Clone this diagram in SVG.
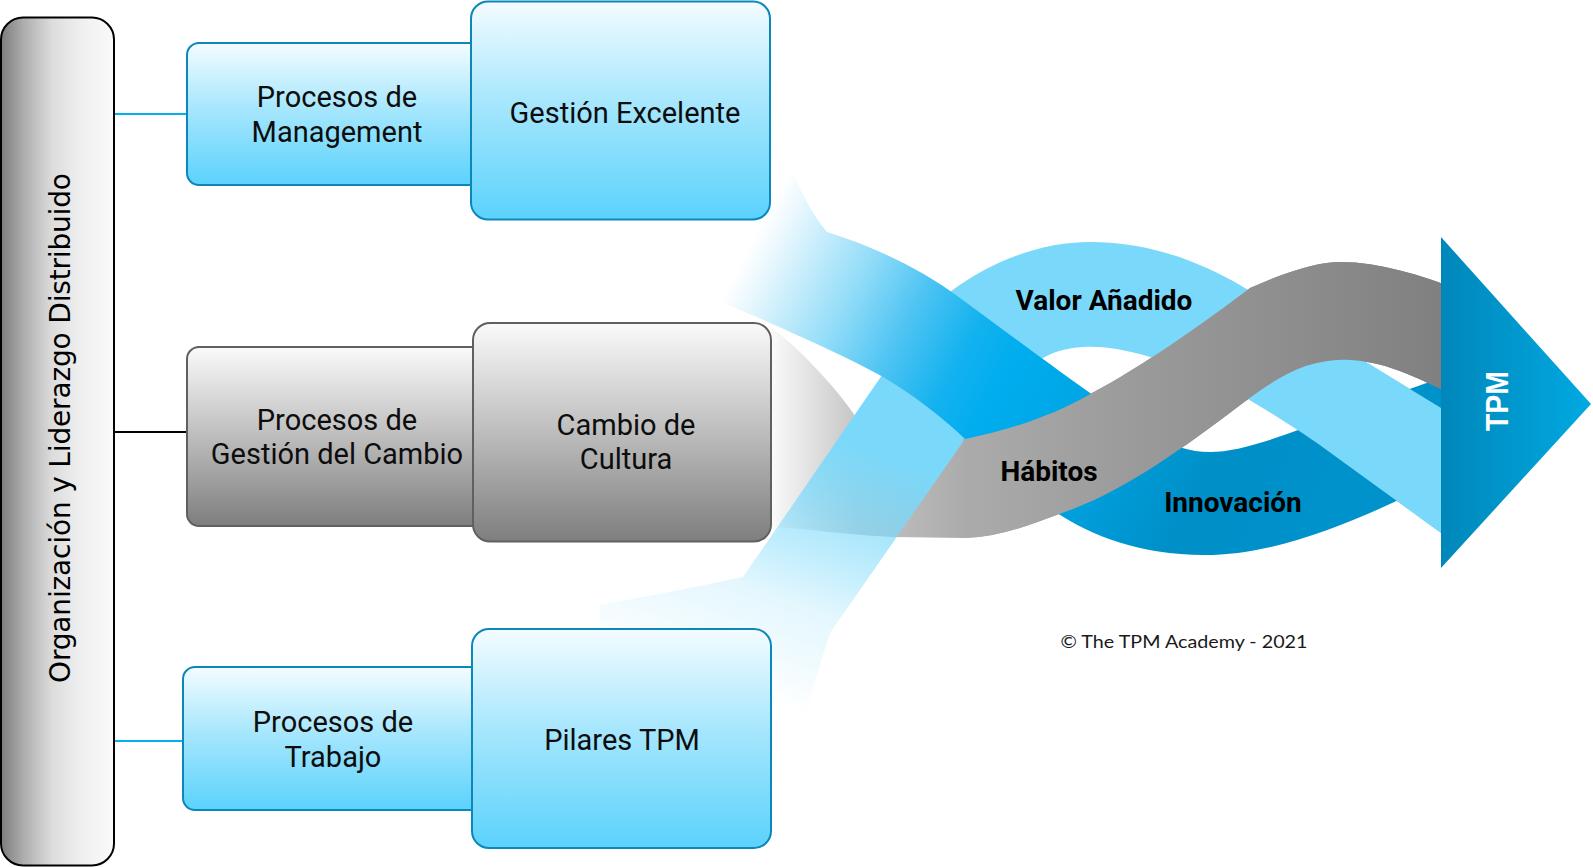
<svg xmlns="http://www.w3.org/2000/svg" width="1593" height="867" viewBox="0 0 1593 867">
<style>
.bl{fill:url(#gBlue);stroke:#0B87B9;stroke-width:2}
.gr{fill:url(#gGray);stroke:#606060;stroke-width:2}
.t{font-family:Roboto,"Liberation Sans",sans-serif;font-size:29px;fill:#0d0d0d;text-anchor:middle}
.tb{font-family:Roboto,"Liberation Sans",sans-serif;font-size:28px;font-weight:bold;fill:#000;text-anchor:middle}
</style>
<defs>
<linearGradient id="gBlue" x1="0" y1="0" x2="0" y2="1">
<stop offset="0" stop-color="#F4FCFF"/><stop offset="0.45" stop-color="#A8E7FD"/><stop offset="1" stop-color="#5BD2FC"/>
</linearGradient>
<linearGradient id="gGray" x1="0" y1="0" x2="0" y2="1">
<stop offset="0" stop-color="#FAFAFA"/><stop offset="0.5" stop-color="#BDBDBD"/><stop offset="1" stop-color="#7E7E7E"/>
</linearGradient>
<linearGradient id="gBar" x1="0" y1="0" x2="1" y2="0">
<stop offset="0" stop-color="#7C7C7C"/><stop offset="0.2" stop-color="#ADADAD"/><stop offset="0.45" stop-color="#DCDCDC"/><stop offset="0.7" stop-color="#EFEFEF"/><stop offset="1" stop-color="#FAFAFA"/>
</linearGradient>
<linearGradient id="gL" gradientUnits="userSpaceOnUse" x1="790" y1="745" x2="900" y2="430">
<stop offset="0.1" stop-color="#7AD9FA" stop-opacity="0"/><stop offset="0.2" stop-color="#7AD9FA" stop-opacity="0.08"/><stop offset="0.4" stop-color="#7AD9FA" stop-opacity="0.2"/><stop offset="0.55" stop-color="#7AD9FA" stop-opacity="0.45"/><stop offset="0.75" stop-color="#7AD9FA" stop-opacity="0.75"/><stop offset="0.92" stop-color="#7AD9FA" stop-opacity="1"/>
</linearGradient>
<linearGradient id="gB" gradientUnits="userSpaceOnUse" x1="600" y1="190" x2="1300" y2="560">
<stop offset="0.2" stop-color="#FFFFFF"/><stop offset="0.23" stop-color="#EBF8FE"/><stop offset="0.34" stop-color="#94DDF8"/><stop offset="0.42" stop-color="#4FC4F3"/><stop offset="0.5" stop-color="#14B2EF"/><stop offset="0.56" stop-color="#00ADEE"/><stop offset="0.66" stop-color="#00A6E6"/><stop offset="0.85" stop-color="#008FC7"/><stop offset="1" stop-color="#0092CB"/>
</linearGradient>
<linearGradient id="gG" gradientUnits="userSpaceOnUse" x1="771" y1="0" x2="1441" y2="0">
<stop offset="0" stop-color="#FAFAFA"/><stop offset="0.13" stop-color="#C4C4C4"/><stop offset="0.29" stop-color="#ABABAB"/><stop offset="0.55" stop-color="#9A9A9A"/><stop offset="0.8" stop-color="#8C8C8C"/><stop offset="1" stop-color="#808080"/>
</linearGradient>
<linearGradient id="gA" x1="0" y1="0" x2="1" y2="0">
<stop offset="0" stop-color="#0087BA"/><stop offset="1" stop-color="#00A9E2"/>
</linearGradient>
<clipPath id="cR"><rect x="1250" y="0" width="400" height="867"/></clipPath>
<clipPath id="cG"><rect x="963" y="0" width="700" height="867"/></clipPath>
<path id="pG" d="M771,327 C795,345 835,385 858,420 L930,445 L965,439 C1000,432 1050,418 1092,393 C1140,368 1205,322 1250,288 C1290,270 1320,262 1340,262 C1380,262 1420,275 1460,290 L1460,398 C1420,380 1390,362 1350,360 C1310,358 1280,375 1243,403 C1200,435 1130,490 1062,513 C1030,525 1000,537 965,538 L893,537 C850,535 800,528 771,527 Z"/>
<path id="pL" d="M680,590 L743,577 L880,378 L950,292 C990,262 1040,242 1090,242 C1150,242 1200,262 1240,285 L1441,408 L1460,420 L1460,545 L1441,533 L1317,443 C1270,410 1190,362 1150,357 C1120,348 1100,346 1083,347 C1065,348 1050,353 1040,360 L965,439 L830,633 L795,745 L771,765 L600,640 L600,605 Z"/>
</defs>

<g id="ribbons">
<use href="#pG" fill="url(#gG)"/>
<use href="#pL" fill="url(#gL)"/>
<path id="band-blue" fill="url(#gB)" d="M770,120 C785,150 800,200 827,232 C870,245 920,268 960,298 C1010,335 1060,372 1100,400 C1140,428 1170,452 1210,452 C1260,452 1340,410 1460,372 L1460,470 C1380,510 1290,555 1204,555 C1140,555 1090,535 1057,513 C1020,490 990,465 965,439 C940,415 910,393 883,377 C840,352 700,290 570,243 L575,219 L770,219 Z"/>
<use href="#pL" fill="url(#gL)" clip-path="url(#cR)"/>
<use href="#pG" fill="url(#gG)" clip-path="url(#cG)"/>
<text class="tb" x="1104" y="310">Valor Añadido</text>
<text class="tb" x="1049" y="481">Hábitos</text>
<text class="tb" x="1233" y="512">Innovación</text>
</g>

<g id="tpm">
<polygon points="1441,237 1591,404 1441,568" fill="url(#gA)"/>
<text transform="translate(1508,401) rotate(-90)" x="0" y="0" font-family="'Liberation Sans',Arial,sans-serif" font-weight="bold" font-size="32" fill="#fff" text-anchor="middle" textLength="60" lengthAdjust="spacingAndGlyphs">TPM</text>
</g>

<g id="connectors">
<line x1="114" y1="114" x2="187" y2="114" stroke="#00B0F0" stroke-width="2"/>
<line x1="114" y1="432" x2="187" y2="432" stroke="#000" stroke-width="2"/>
<line x1="114" y1="741" x2="183" y2="741" stroke="#00B0F0" stroke-width="2"/>
</g>

<g id="org-bar">
<rect x="1" y="17.5" width="113" height="848" rx="22" ry="22" fill="url(#gBar)" stroke="#000" stroke-width="2"/>
<text transform="translate(70,428) rotate(-90)" x="0" y="0" font-family="'DejaVu Sans',Verdana,sans-serif" font-size="28" fill="#000" text-anchor="middle" textLength="510" lengthAdjust="spacing">Organización y Liderazgo Distribuido</text>
</g>

<g id="proc-management">
<rect class="bl" x="187" y="43" width="300" height="142" rx="12"/>
<text class="t" x="337" y="107">Procesos de</text>
<text class="t" x="337" y="142">Management</text>
</g>
<g id="gestion-excelente">
<rect class="bl" x="471" y="1.5" width="299" height="218" rx="17"/>
<text class="t" x="625" y="123">Gestión Excelente</text>
</g>

<g id="proc-cambio">
<rect class="gr" x="187" y="347" width="300" height="179" rx="12"/>
<text class="t" x="337" y="430">Procesos de</text>
<text class="t" x="337" y="464">Gestión del Cambio</text>
</g>
<g id="cambio-cultura">
<rect class="gr" x="473" y="323" width="298" height="218.5" rx="17"/>
<text class="t" x="626" y="435">Cambio de</text>
<text class="t" x="626" y="469">Cultura</text>
</g>

<g id="proc-trabajo">
<rect class="bl" x="183" y="667" width="300" height="143" rx="12"/>
<text class="t" x="333" y="732">Procesos de</text>
<text class="t" x="333" y="767">Trabajo</text>
</g>
<g id="pilares-tpm">
<rect class="bl" x="472" y="629" width="299" height="219" rx="17"/>
<text class="t" x="622" y="750">Pilares TPM</text>
</g>

<text id="copyright" x="1184" y="648" font-family="Lato,'Open Sans',sans-serif" font-size="18" fill="#1a1a1a" text-anchor="middle" textLength="247" lengthAdjust="spacingAndGlyphs">© The TPM Academy - 2021</text>
</svg>
